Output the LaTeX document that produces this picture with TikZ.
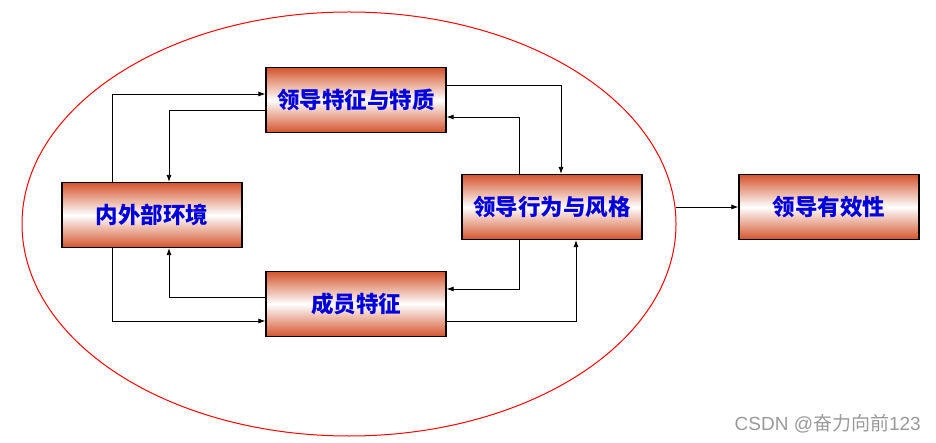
\documentclass[tikz,border=0pt]{standalone}
\usepackage{fontspec}
\newfontfamily\cjk{Noto Sans CJK SC}
\newfontfamily\wm{Liberation Sans}
\usetikzlibrary{arrows.meta}
\definecolor{boxred}{RGB}{212,84,44}
\definecolor{txtblue}{RGB}{0,0,220}
\tikzset{
  every picture/.style={x=1pt,y=-1pt},
  gbox/.style={draw=black,line width=1.2pt,minimum width=180pt,minimum height=65pt,
    inner sep=0pt,top color=boxred,bottom color=boxred,middle color=white,
    font=\cjk\bfseries\fontsize{22.5}{25}\selectfont,text=txtblue},
  conn/.style={line width=0.8pt,-{Latex[length=7pt,width=5pt]}}
}
\begin{document}
\begin{tikzpicture}
\useasboundingbox (0,0) rectangle (936,443);
\draw[red,line width=1pt] (349,224) ellipse [x radius=327pt,y radius=212pt];
\node[gbox] (A) at (356,100) {领导特征与特质};
\node[gbox] (B) at (552,207) {领导行为与风格};
\node[gbox] (C) at (152,215) {内外部环境};
\node[gbox] (D) at (356,304) {成员特征};
\node[gbox] (E) at (829,207) {领导有效性};
\coordinate (ell) at (676,207);
% C <-> A
\draw[conn] (C.north -| 112,0) |- (A.west |- 0,94);
\draw[conn] (A.west |- 0,110) -| (C.north -| 169,0);
% A <-> B
\draw[conn] (A.east |- 0,85) -| (B.north -| 561,0);
\draw[conn] (B.north -| 519,0) |- (A.east |- 0,117);
% B <-> D
\draw[conn] (B.south -| 519,0) |- (D.east |- 0,289);
\draw[conn] (D.east |- 0,321) -| (B.south -| 576,0);
% D <-> C
\draw[conn] (D.west |- 0,297) -| (C.south -| 169,0);
\draw[conn] (C.south -| 112,0) |- (D.west |- 0,321);
% ellipse -> E
\draw[conn] (ell) -- (E.west);
\node[text=black!40,font=\wm\fontsize{19}{21}\selectfont,anchor=east,inner sep=0pt] (wm) at (921,424) {CSDN @{\cjk 奋力向前}123};
\end{tikzpicture}
\end{document}
